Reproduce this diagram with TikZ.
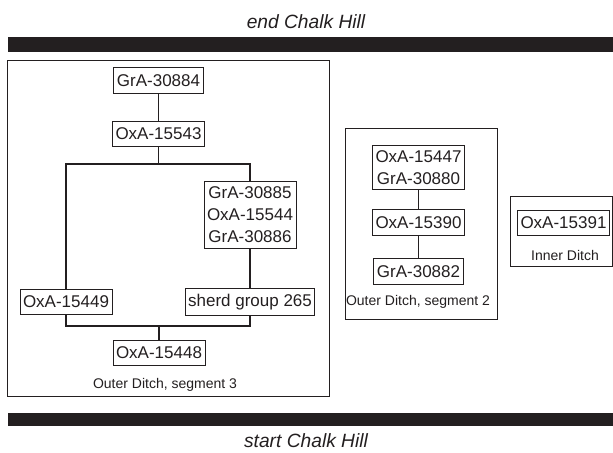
\documentclass[tikz,border=0pt]{standalone}
\usepackage{fontspec}
\setmainfont{Liberation Sans}
\usepackage{xcolor}
\definecolor{ink}{HTML}{231F20}

\tikzset{
  datebox/.style={draw=ink, line width=0.5pt, inner xsep=1.5pt, inner ysep=2.6pt,
    minimum height=12.8pt, align=center, text=ink,
    font=\fontsize{8.5}{11}\selectfont},
  groupbox/.style={draw=ink, line width=0.5pt, inner sep=0pt},
  grouplabel/.style={text=ink, inner sep=0pt, font=\fontsize{7}{8}\selectfont},
  phasebar/.style={fill=ink, draw=none},
  phaselabel/.style={text=ink, inner sep=0pt, font=\fontsize{9.6}{11}\selectfont\itshape},
  link/.style={draw=ink, line width=0.8pt}
}

\begin{document}
\begin{tikzpicture}[x=0.5pt, y=-0.5pt]
    \useasboundingbox (0,0) rectangle (613,453);
    % phase bars
    \node[phaselabel] (endlbl) at (306,22) {end Chalk Hill};
    \fill[phasebar] (8,37) rectangle (613,52);
    \fill[phasebar] (8,413) rectangle (613,426);
    \node[phaselabel] (startlbl) at (306,441) {start Chalk Hill};
    % Outer Ditch, segment 3
    \node[groupbox, minimum width=161pt, minimum height=167.5pt] (seg3) at (168,228.5) {};
    \node[datebox] (g30884) at (158.5,80.5) {GrA-30884};
    \node[datebox] (o15543) at (158.5,134) {OxA-15543};
    \node[datebox] (grp3) at (250,215) {GrA-30885\\OxA-15544\\GrA-30886};
    \node[datebox] (o15449) at (66,302) {OxA-15449};
    \node[datebox] (sherd) at (250,302) {sherd group 265};
    \node[datebox] (o15448) at (159,353) {OxA-15448};
    \node[grouplabel] (seg3lbl) at (165,385) {Outer Ditch, segment 3};
    \coordinate (split) at (158.5,164);
    \coordinate (join) at (159,326);
    \draw[link] (g30884) -- (o15543);
    \draw[link] (o15543.south) -- (split);
    \draw[link] (o15449.north) |- (split) -| (grp3.north);
    \draw[link] (grp3) -- (sherd);
    \draw[link] (o15449.south) |- (join) -| (sherd.south);
    \draw[link] (join) -- (o15448.north);
    % Outer Ditch, segment 2
    \node[groupbox, minimum width=76pt, minimum height=95pt] (seg2) at (421,224) {};
    \node[datebox] (o15447) at (418.5,167.5) {OxA-15447\\GrA-30880};
    \node[datebox] (o15390) at (418.5,222.5) {OxA-15390};
    \node[datebox] (g30882) at (418.5,271.5) {GrA-30882};
    \node[grouplabel] (seg2lbl) at (418,302) {Outer Ditch, segment 2};
    \draw[link] (o15447) -- (o15390);
    \draw[link] (o15390) -- (g30882);
    % Inner Ditch
    \node[groupbox, minimum width=51pt, minimum height=35pt] (inner) at (561,232) {};
    \node[datebox] (o15391) at (563.5,223) {OxA-15391};
    \node[grouplabel] (innerlbl) at (565,255) {Inner Ditch};
\end{tikzpicture}
\end{document}
